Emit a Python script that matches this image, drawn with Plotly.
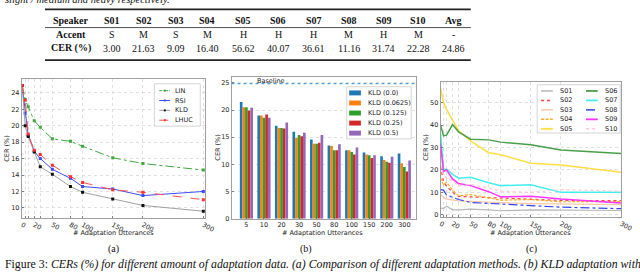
import plotly.graph_objects as go

W, H = 640, 275
def px(x): return x / W
def py(y): return 1 - y / H

# ---------------- data ----------------
# table
speakers = ['S01', 'S02', 'S03', 'S04', 'S05', 'S06', 'S07', 'S08', 'S09', 'S10', 'Avg']
accents = ['S', 'M', 'S', 'M', 'H', 'H', 'H', 'M', 'H', 'M', '-']
base_cer = [3.00, 21.63, 9.09, 16.40, 56.62, 40.07, 36.61, 11.16, 31.74, 22.28, 24.86]

# (a) methods
utts = [0, 5, 10, 20, 30, 50, 80, 100, 150, 200, 300]
utt_labels = ['0', '', '', '20', '', '50', '80', '100', '150', '200', '300']
lin = [24.9, 23.2, 22.3, 20.6, 19.8, 18.4, 18.1, 17.5, 16.1, 15.4, 14.6]
rsi = [24.9, 21.5, 18.8, 16.9, 16.0, 14.7, 13.6, 12.6, 12.3, 11.5, 12.0]
kld = [24.9, 20.0, 18.7, 16.8, 15.0, 14.1, 12.6, 11.9, 11.1, 10.3, 9.6]
lhuc = [24.9, 23.1, 19.0, 17.0, 16.5, 15.2, 13.8, 13.1, 12.2, 11.9, 11.0]

# (b) KLD weights
bar_cats = ['5', '10', '20', '30', '50', '80', '100', '150', '200', '300']
kld_0 = [21.5, 19.0, 17.1, 16.0, 14.6, 13.5, 12.6, 12.2, 11.5, 12.0]
kld_00625 = [20.5, 19.0, 16.7, 14.9, 13.8, 13.4, 12.6, 11.8, 10.8, 10.2]
kld_0125 = [20.5, 18.6, 16.7, 15.4, 13.8, 12.6, 12.3, 11.7, 10.5, 9.5]
kld_025 = [19.9, 19.2, 16.6, 15.2, 14.0, 12.6, 11.8, 11.2, 10.3, 8.7]
kld_05 = [20.4, 18.6, 17.7, 15.8, 15.4, 13.7, 13.1, 11.7, 11.4, 10.7]
kld_names = ['KLD (0.0)', 'KLD (0.0625)', 'KLD (0.125)', 'KLD (0.25)', 'KLD (0.5)']
baseline = base_cer[-1]

# (c) per speaker
s01 = [3.0, 2.9, 3.8, 2.2, 2.2, 2.5, 2.2, 1.8, 2.2, 2.0, 1.9]
s02 = [21.6, 14.6, 12.8, 10.0, 8.2, 8.0, 7.5, 7.2, 7.0, 6.4, 6.3]
s03 = [9.1, 7.8, 7.0, 6.5, 6.2, 6.0, 5.5, 5.4, 5.0, 4.8, 4.5]
s04 = [16.4, 13.3, 14.5, 11.0, 8.5, 9.0, 7.5, 6.5, 6.8, 5.8, 5.9]
s05 = [56.6, 50.0, 47.0, 42.0, 37.5, 33.0, 27.7, 26.8, 23.0, 22.2, 19.0]
s06 = [40.1, 35.2, 35.5, 40.2, 37.0, 33.7, 33.4, 32.4, 31.2, 28.9, 27.3]
s07 = [36.6, 20.4, 20.3, 18.0, 16.3, 16.7, 14.3, 13.0, 13.4, 10.0, 10.0]
s08 = [11.2, 11.0, 8.8, 7.8, 6.8, 5.5, 5.1, 5.0, 4.0, 3.4, 2.7]
s09 = [31.7, 19.3, 20.0, 16.0, 13.9, 13.0, 10.3, 8.0, 8.3, 7.0, 5.2]
s10 = [22.3, 17.8, 16.5, 15.0, 13.0, 13.5, 12.0, 10.5, 10.0, 11.2, 10.6]

# ---------------- styles ----------------
TICKF = dict(family='DejaVu Sans', size=6.5, color='#222')
SERIF = 'Liberation Serif'
a_styles = {
    'LIN': dict(color='#3fa83f', dash='dashdot', mcolor='#3fa83f'),
    'RSI': dict(color='#3a4cf5', dash='solid', mcolor='#3a4cf5'),
    'KLD': dict(color='#a0a0a0', dash='solid', mcolor='#111111'),
    'LHUC': dict(color='#ff5050', dash='dash', mcolor='#ff3030'),
}
b_colors = ['#1f77b4', '#ff7f0e', '#2ca02c', '#d62728', '#9467bd']
c_styles = [
    ('#b8b8b8', 'solid', 1.2), ('#ff4040', 'dot', 1.2), ('#f8c9a8', 'solid', 1.2),
    ('#ffaa22', '3px,1.5px', 1.2), ('#ffdd44', 'solid', 1.5), ('#4a9e4a', 'solid', 1.5),
    ('#44eeee', 'solid', 1.5), ('#3344ee', 'dashdot', 1.2), ('#ff33ff', 'solid', 1.5),
    ('#ffc8d0', 'dot', 1.2),
]

fig = go.Figure()
shapes = []
annots = []

# ---------------- panel (a) ----------------
for name, ys in zip(['LIN', 'RSI', 'KLD', 'LHUC'], [lin, rsi, kld, lhuc]):
    st = a_styles[name]
    fig.add_trace(go.Scatter(x=utts, y=ys, mode='lines+markers', name=name,
                             line=dict(color=st['color'], dash=st['dash'], width=1),
                             marker=dict(symbol='square', size=3, color=st['mcolor']),
                             xaxis='x', yaxis='y', showlegend=False))

# ---------------- panel (b) ----------------
for name, ys, col in zip(kld_names, [kld_0, kld_00625, kld_0125, kld_025, kld_05], b_colors):
    fig.add_trace(go.Bar(x=bar_cats, y=ys, name=name, marker=dict(color=col, line=dict(width=0)),
                         xaxis='x2', yaxis='y2', showlegend=False))

# ---------------- panel (c) ----------------
for i, ys in enumerate([s01, s02, s03, s04, s05, s06, s07, s08, s09, s10]):
    col, dash, w = c_styles[i]
    fig.add_trace(go.Scatter(x=utts, y=ys, mode='lines', name=speakers[i],
                             line=dict(color=col, dash=dash, width=w),
                             xaxis='x3', yaxis='y3', showlegend=False))

def axis(domain, rng, tickvals=None, ticktext=None, anchor=None, grid=True, dtick=None):
    d = dict(domain=domain, range=rng, anchor=anchor, showline=True, mirror=True,
             linecolor='#888', linewidth=0.8, ticks='inside', ticklen=2, tickwidth=0.8,
             tickcolor='#666', tickfont=TICKF, showgrid=grid, gridcolor='#d8d8d8',
             griddash='dot', gridwidth=0.8, zeroline=False)
    if tickvals is not None:
        d['tickmode'] = 'array'
        d['tickvals'] = tickvals
        if ticktext is not None:
            d['ticktext'] = ticktext
    if dtick is not None:
        d['dtick'] = dtick
        d['tick0'] = 0
    return d

fig.update_layout(
    xaxis=axis([px(19), px(207)], [-1, 303], utts, utt_labels, 'y'),
    yaxis=axis([py(221), py(80)], [8.8, 25.7], anchor='x', dtick=2),
    xaxis2=axis([px(234), px(423)], [-0.85, 9.67], anchor='y2', grid=False),
    yaxis2=axis([py(222), py(78)], [0, 26.1], anchor='x2', dtick=5),
    xaxis3=axis([px(448), px(633)], [0, 300], utts, utt_labels, 'y3'),
    yaxis3=axis([py(220), py(83)], [-0.9, 59.3], anchor='x3', dtick=10),
    barmode='group', bargap=0.25, bargroupgap=0,
)
fig.update_layout(xaxis2=dict(type='category'))

# baseline in (b)
shapes.append(dict(type='line', xref='x2 domain', yref='y2', x0=0, x1=1, y0=baseline, y1=baseline,
                   line=dict(color='#4f9fdc', width=1.4, dash='dot')))
annots.append(dict(xref='x2 domain', yref='y2', x=(258 - 234) / 189, y=baseline, yanchor='bottom',
                   text='Baseline', showarrow=False, yshift=-3,
                   font=dict(family='DejaVu Sans', size=6.5, color='#222')))

# ---------------- manual legends ----------------
def box(x0, y0, x1, y1):
    shapes.append(dict(type='rect', xref='paper', yref='paper', x0=px(x0), x1=px(x1),
                       y0=py(y1), y1=py(y0), line=dict(color='#cccccc', width=0.8),
                       fillcolor='rgba(255,255,255,0.85)', layer='above'))

def ltext(x, y, t):
    annots.append(dict(xref='paper', yref='paper', x=px(x), y=py(y), xanchor='left', yanchor='middle',
                       text=t, showarrow=False, font=dict(family='DejaVu Sans', size=6.5, color='#222')))

# (a)
box(155, 85, 202, 128)
for k, name in enumerate(['LIN', 'RSI', 'KLD', 'LHUC']):
    st = a_styles[name]
    yy = 92 + 10 * k
    shapes.append(dict(type='line', xref='paper', yref='paper', x0=px(160), x1=px(171), y0=py(yy), y1=py(yy),
                       line=dict(color=st['color'], width=1, dash=st['dash'] if st['dash'] != 'dashdot' else '3px,1px,1px,1px'),
                       layer='above'))
    shapes.append(dict(type='rect', xref='paper', yref='paper', x0=px(164.7), x1=px(166.7),
                       y0=py(yy + 1), y1=py(yy - 1), line=dict(width=0), fillcolor=st['mcolor'], layer='above'))
    ltext(174, yy, name)

# (b)
box(352, 88, 418, 141)
for k, name in enumerate(kld_names):
    yy = 94.3 + 10.2 * k
    shapes.append(dict(type='rect', xref='paper', yref='paper', x0=px(354.5), x1=px(366.5),
                       y0=py(yy + 2.5), y1=py(yy - 2.5), line=dict(width=0), fillcolor=b_colors[k], layer='above'))
    ltext(372, yy, name)

# (c)
box(547, 86, 632, 135)
for i in range(10):
    col, dash, w = c_styles[i]
    cx = 551 if i < 5 else 597
    tx = 568 if i < 5 else 614
    yy = 92.3 + 9.6 * (i % 5)
    shapes.append(dict(type='line', xref='paper', yref='paper', x0=px(cx), x1=px(cx + 12), y0=py(yy), y1=py(yy),
                       line=dict(color=col, width=w + 0.3, dash=dash), layer='above'))
    ltext(tx, yy, speakers[i])

# ---------------- axis titles ----------------
def title(x, y, t, angle=0):
    annots.append(dict(xref='paper', yref='paper', x=px(x), y=py(y), xanchor='center', yanchor='middle',
                       text=t, showarrow=False, textangle=angle,
                       font=dict(family='DejaVu Sans', size=6.5, color='#222')))

title(113, 236, '# Adaptation Utterances')
title(327, 236, '# Adaptation Utterances')
title(540, 236, '# Adaptation Utterances')
title(4, 151, 'CER (%)', -90)
title(220, 150, 'CER (%)', -90)
title(433, 150, 'CER (%)', -90)

# subfigure labels
for x, t in [(113, '(a)'), (310, '(b)'), (541, '(c)')]:
    annots.append(dict(xref='paper', yref='paper', x=px(x), y=py(253), xanchor='center', yanchor='middle',
                       text=t, showarrow=False, font=dict(family=SERIF, size=10, color='#111')))

# caption
annots.append(dict(xref='paper', yref='paper', x=px(0), y=py(268), xanchor='left', yanchor='middle',
                   text='Figure 3: <i>CERs (%) for different amount of adaptation data. (a) Comparison of different adaptation methods. (b) KLD adaptation with</i>',
                   showarrow=False, font=dict(family=SERIF, size=11.8, color='#111')))
# cut-off text at top
annots.append(dict(xref='paper', yref='paper', x=px(0), y=py(-1), xanchor='left', yanchor='middle',
                   text='<i>slight / medium and heavy respectively.</i>',
                   showarrow=False, font=dict(family=SERIF, size=10.5, color='#111')))

# ---------------- table ----------------
col_x = [70, 112, 144, 177, 209, 246, 282, 318, 354, 390, 425, 461]
rows_y = [21, 35, 49]
hdr = ['Speaker'] + speakers
acc = ['Accent'] + accents
cer = ['CER (%)'] + ['%.2f' % v for v in base_cer]
for r, row in enumerate([hdr, acc, cer]):
    for c, t in enumerate(row):
        bold = (r == 0) or (c == 0)
        annots.append(dict(xref='paper', yref='paper', x=px(col_x[c]), y=py(rows_y[r]), xanchor='center',
                           yanchor='middle', text=('<b>%s</b>' % t) if bold else t, showarrow=False,
                           font=dict(family=SERIF, size=10, color='#111')))
for y, w in [(9.5, 1.6), (28, 0.8), (61, 1.6)]:
    shapes.append(dict(type='line', xref='paper', yref='paper', x0=px(43), x1=px(479), y0=py(y), y1=py(y),
                       line=dict(color='#222', width=w)))

fig.update_layout(width=W, height=H, margin=dict(l=0, r=0, t=0, b=0), paper_bgcolor='white',
                  plot_bgcolor='white', shapes=shapes, annotations=annots, showlegend=False)
fig.write_html('out.html', config={'displayModeBar': False, 'staticPlot': True},
               post_script="document.body.style.margin='0';document.body.style.overflow='hidden';")
